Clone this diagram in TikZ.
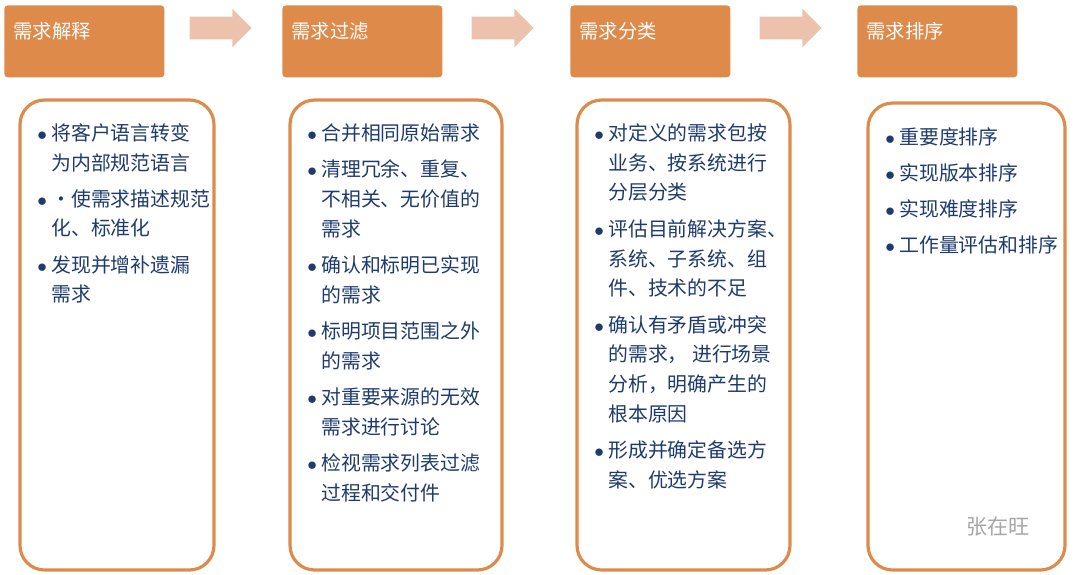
\documentclass[tikz,border=0pt]{standalone}
\usepackage{fontspec}
\setmainfont{Noto Sans CJK SC}
\usetikzlibrary{positioning,shapes.arrows}
\definecolor{hdr}{HTML}{DE8A4A}
\definecolor{arw}{HTML}{EDC2AD}
\definecolor{ink}{HTML}{1F3B6E}
\tikzset{
x=0.02cm, y=-0.02cm,
header/.style={fill=hdr, rounded corners=2pt, minimum width=160*0.02cm, minimum height=72*0.02cm, anchor=north west, inner sep=0pt}, % orange title box
htext/.style={text=white, font=\fontsize{11}{13}\selectfont, anchor=west, inner sep=0pt},
panel/.style={draw=hdr, line width=1.8pt, fill=white, rounded corners=14pt},
flow/.style={single arrow, fill=arw, minimum height=62*0.02cm, single arrow head extend=8*0.02cm, inner sep=0pt},
item/.style={text=ink, font=\fontsize{11.3}{17}\selectfont, align=left, anchor=north west, inner sep=0pt},
}
\newcommand{\pt}[1]{\makebox[8pt][l]{$\bullet$}\parbox[t]{6cm}{#1}}
\newcommand{\shaft}{\rule{0pt}{0.44cm}}
\begin{document}
\begin{tikzpicture}
\useasboundingbox (0,0) rectangle (1080,575);
% titles
\node[header] (h1) at (4,5) {};
\node[header] (h2) at (282,5) {};
\node[header] (h3) at (570,5) {};
\node[header] (h4) at (857,5) {};
\node[htext] at (13,31) {需求解释};
\node[htext] at (291,31) {需求过滤};
\node[htext] at (579,31) {需求分类};
\node[htext] at (866,31) {需求排序};
% arrows between titles
\node[flow] (a1) at (215,28) {\shaft};
\node[flow] (a2) at (497,28) {\shaft};
\node[flow] (a3) at (785,28) {\shaft};
% panels
\draw[panel] (20,100) rectangle (214,570);
\draw[panel] (290,100) rectangle (502,570);
\draw[panel] (577,100) rectangle (790,570);
\draw[panel] (868,103) rectangle (1065,570);
% column 1
\node[item] (c1a) at (37,123) {\pt{将客户语言转变\\为内部规范语言}};
\node[item, below=17*0.02cm of c1a.south west, anchor=north west] (c1b) {\pt{·使需求描述规范\\化、标准化}};
\node[item, below=17*0.02cm of c1b.south west, anchor=north west] (c1c) {\pt{发现并增补遗漏\\需求}};
% column 2
\node[item] (c2a) at (307,123) {\pt{合并相同原始需求}};
\node[item, below=17*0.02cm of c2a.south west, anchor=north west] (c2b) {\pt{清理冗余、重复、\\不相关、无价值的\\需求}};
\node[item, below=17*0.02cm of c2b.south west, anchor=north west] (c2c) {\pt{确认和标明已实现\\的需求}};
\node[item, below=17*0.02cm of c2c.south west, anchor=north west] (c2d) {\pt{标明项目范围之外\\的需求}};
\node[item, below=17*0.02cm of c2d.south west, anchor=north west] (c2e) {\pt{对重要来源的无效\\需求进行讨论}};
\node[item, below=17*0.02cm of c2e.south west, anchor=north west] (c2f) {\pt{检视需求列表过滤\\过程和交付件}};
% column 3
\node[item] (c3a) at (594,123) {\pt{对定义的需求包按\\业务、按系统进行\\分层分类}};
\node[item, below=17*0.02cm of c3a.south west, anchor=north west] (c3b) {\pt{评估目前解决方案、\\系统、子系统、组\\件、技术的不足}};
\node[item, below=17*0.02cm of c3b.south west, anchor=north west] (c3c) {\pt{确认有矛盾或冲突\\的需求， 进行场景\\分析，明确产生的\\根本原因}};
\node[item, below=17*0.02cm of c3c.south west, anchor=north west] (c3d) {\pt{形成并确定备选方\\案、优选方案}};
% column 4
\node[item] (c4a) at (885,127) {\pt{重要度排序}};
\node[item, below=17*0.02cm of c4a.south west, anchor=north west] (c4b) {\pt{实现版本排序}};
\node[item, below=17*0.02cm of c4b.south west, anchor=north west] (c4c) {\pt{实现难度排序}};
\node[item, below=17*0.02cm of c4c.south west, anchor=north west] (c4d) {\pt{工作量评估和排序}};
% watermark
\node[text=gray!70, font=\fontsize{12}{14}\selectfont, anchor=west, inner sep=0pt] (wm) at (966,527) {张在旺};
\end{tikzpicture}
\end{document}
